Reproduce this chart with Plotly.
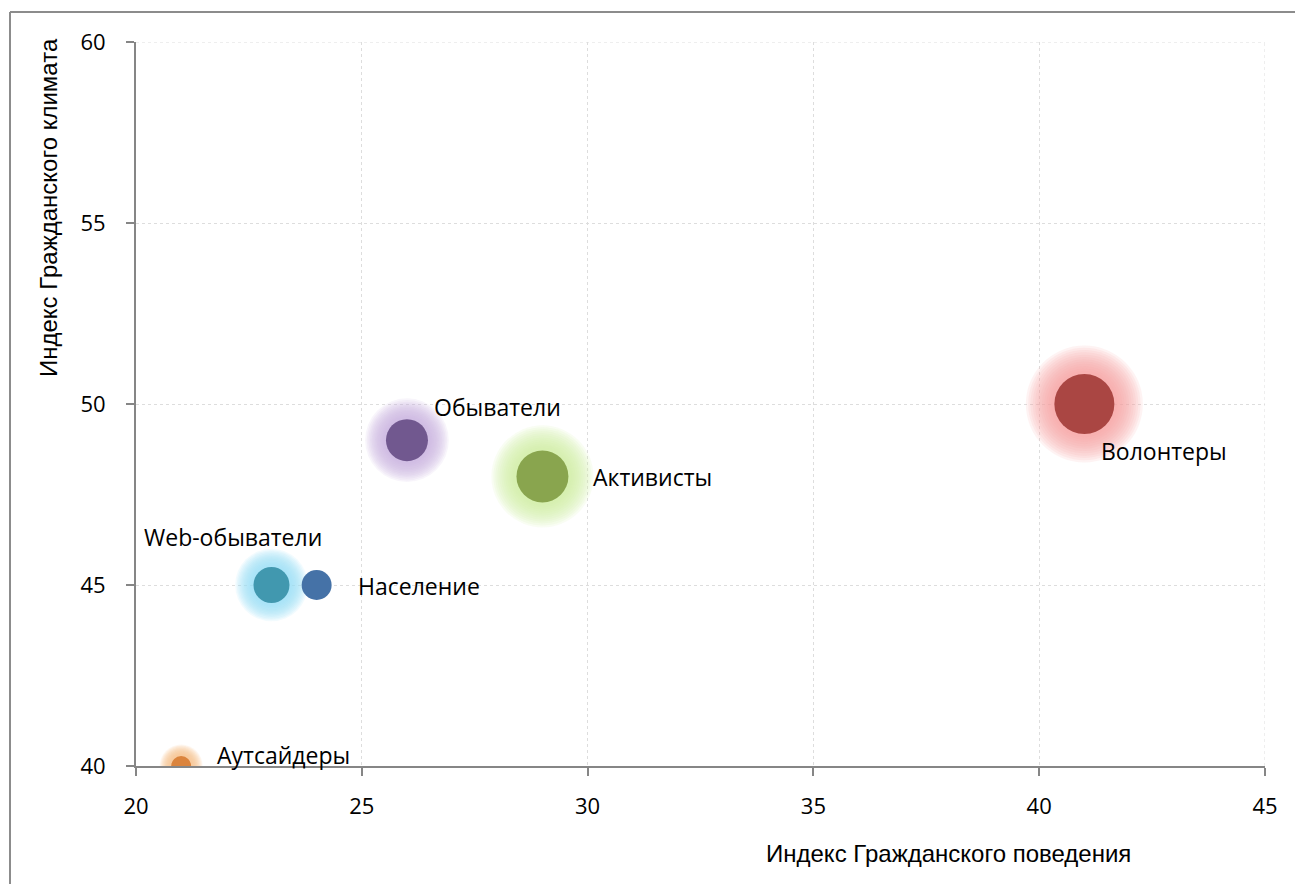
import plotly.graph_objects as go
import math

# ---- data ----
names = ["Аутсайдеры", "Web-обыватели", "Население", "Обыватели", "Активисты", "Волонтеры"]
civic_behavior = [21, 23, 24, 26, 29, 41]      # x: Индекс Гражданского поведения
civic_climate = [40, 45, 45, 49, 48, 50]       # y: Индекс Гражданского климата
bubble_value = [11, 36, 25, 49, 75, 100]       # bubble size (relative)
x_ticks = [20, 25, 30, 35, 40, 45]
y_ticks = [40, 45, 50, 55, 60]

# ---- styles ----
colors = ["#DB843D", "#4198AF", "#4572A7", "#71588F", "#89A54E", "#AA4643"]
glow_colors = ["#FBBF88", "#98E2F6", None, "#C6B0E2", "#D4F0A2", "#F4A4A4"]
label_shift = [(34, 11, "left"), (-38, 48, "center"), (39, -1, "left"),
               (25, 33, "left"), (49, -1, "left"), (15, -47, "left")]
MAX_D = 60.0

diam = [MAX_D * math.sqrt(v / max(bubble_value)) for v in bubble_value]

fig = go.Figure()

# glow layers
n_layers = 12
for i in range(len(names)):
    if glow_colors[i] is None:
        continue
    d = diam[i]
    extra = 0.85 * d + 4
    for k in range(n_layers):
        frac = 1 - k / n_layers
        fig.add_trace(go.Scatter(
            x=[civic_behavior[i]], y=[civic_climate[i]], mode="markers",
            marker=dict(size=d + extra * frac + 2, color=glow_colors[i], opacity=0.13,
                        line=dict(width=0)),
            hoverinfo="skip", showlegend=False, cliponaxis=True))

# bubbles
fig.add_trace(go.Scatter(
    x=civic_behavior, y=civic_climate, mode="markers",
    marker=dict(size=diam, sizemode="diameter", color=colors, opacity=1,
                line=dict(width=0)),
    text=names, hoverinfo="text", showlegend=False, cliponaxis=True))

# labels
for i, nm in enumerate(names):
    dx, dy, anc = label_shift[i]
    fig.add_annotation(x=civic_behavior[i], y=civic_climate[i], text=nm,
                       showarrow=False, xanchor=anc, yanchor="middle",
                       xshift=dx, yshift=dy,
                       font=dict(family="Open Sans", size=23, color="#000000"))

L, R, T, B = 136, 1265, 42, 766
W, H = 1295, 884

def px2paper_x(px):
    return (px - L) / (R - L)

def px2paper_y(py):
    return (B - py) / (B - T)

# axis titles
fig.add_annotation(xref="paper", yref="paper", x=px2paper_x(948), y=px2paper_y(853),
                   text="Индекс Гражданского поведения", showarrow=False,
                   xanchor="center", yanchor="middle",
                   font=dict(family="Liberation Sans", size=24, color="#000000"))
fig.add_annotation(xref="paper", yref="paper", x=px2paper_x(48), y=px2paper_y(208),
                   text="Индекс Гражданского климата", showarrow=False, textangle=-90,
                   xanchor="center", yanchor="middle",
                   font=dict(family="Liberation Sans", size=24, color="#000000"))

# outer frame lines
fig.add_shape(type="line", xref="paper", yref="paper",
              x0=px2paper_x(10), y0=px2paper_y(12), x1=px2paper_x(1300), y1=px2paper_y(12),
              line=dict(color="#8C8C8C", width=2))
fig.add_shape(type="line", xref="paper", yref="paper",
              x0=px2paper_x(10), y0=px2paper_y(12), x1=px2paper_x(10), y1=px2paper_y(890),
              line=dict(color="#8C8C8C", width=2))

axis_common = dict(showline=True, linecolor="#868686", linewidth=2,
                   ticks="outside", ticklen=8, tickcolor="#868686", tickwidth=2,
                   showgrid=True, gridcolor="#DDDDDD", griddash="dot", gridwidth=1,
                   zeroline=False, tickfont=dict(family="Open Sans", size=22, color="#000000"))

fig.update_xaxes(range=[20, 45], tickvals=x_ticks, ticklabelstandoff=12, **axis_common)
fig.update_yaxes(range=[40, 60], tickvals=y_ticks, ticklabelstandoff=16, **axis_common)

# dotted border gridlines at 45 / 60
fig.add_shape(type="line", xref="x", yref="paper", x0=45, x1=45, y0=0, y1=1,
              line=dict(color="#DDDDDD", width=1, dash="dot"), layer="below")
fig.add_shape(type="line", xref="paper", yref="y", x0=0, x1=1, y0=60, y1=60,
              line=dict(color="#DDDDDD", width=1, dash="dot"), layer="below")

fig.update_layout(width=W, height=H, margin=dict(l=L, r=W - R, t=T, b=H - B),
                  plot_bgcolor="white", paper_bgcolor="white")

fig.write_html("out.html")
